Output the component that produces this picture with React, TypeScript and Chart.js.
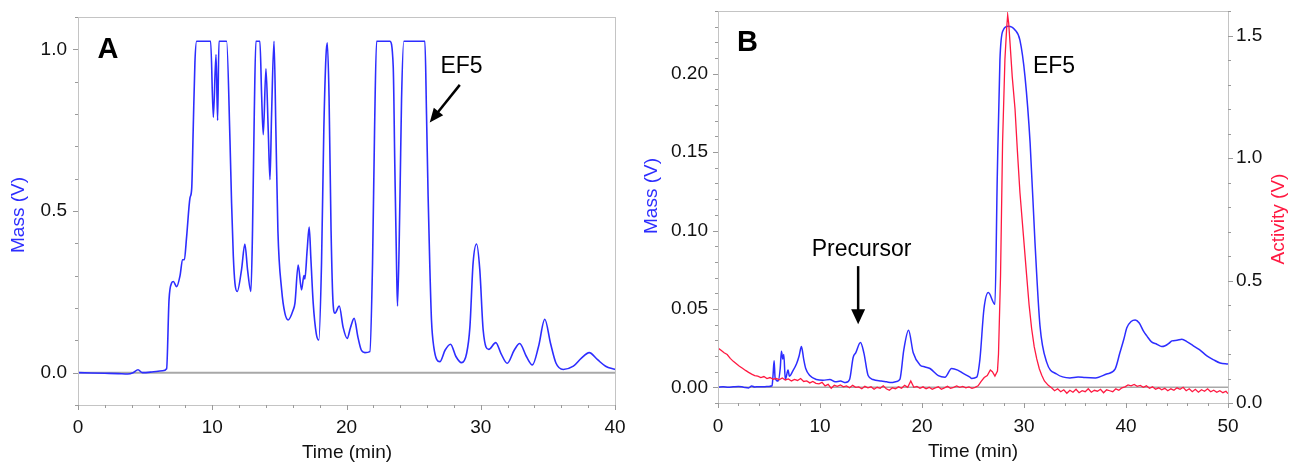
import React, { useEffect, useRef } from 'react';
import { Chart, registerables } from 'chart.js';

Chart.register(...registerables);

// ---------- Panel A data ----------
const massATime = [
  0, 1, 2, 3, 3.7, 4.1, 4.47, 4.8, 5.5, 6.3, 6.6, 6.78, 6.97, 7.1, 7.35, 7.6, 7.79, 7.92, 8.09, 8.34, 8.47, 8.58, 8.71, 8.84,
  9.88, 10.08, 10.28, 10.4, 10.5, 11.07, 11.32, 11.44, 11.57, 11.69, 11.86, 12.18, 12.43, 12.63, 12.88, 13.0, 13.13, 13.25,
  13.55, 13.68, 13.8, 14.0, 14.17, 14.3, 14.42, 14.6, 14.74, 14.89, 15.17, 15.41, 15.66, 16.03, 16.16, 16.4, 16.65, 16.83,
  16.9, 17.07, 17.22, 17.35, 17.52, 17.75, 17.94, 18.14, 18.31, 18.47, 18.57, 18.7, 18.85, 19.0, 19.14, 19.46, 19.75, 20.05,
  20.3, 20.57, 20.85, 21.1, 21.37, 21.74, 21.94, 22.09, 22.24, 23.23, 23.48, 23.6, 23.73, 23.8, 23.98, 24.1, 24.27, 25.84,
  25.96, 26.08, 26.2, 26.33, 26.5, 26.95, 27.35, 27.75, 28.15, 28.57, 28.95, 29.19, 29.43, 29.69, 29.93, 30.18, 30.6, 31.12,
  31.5, 31.97, 32.5, 32.9, 33.4, 33.85, 34.3, 34.77, 35.2, 35.6, 36.14, 36.9, 37.5, 38.08, 38.7, 39.3, 40,
];
const massAValue = [
  0, -0.001, -0.002, -0.003, -0.004, 0.0, 0.009, 0.0, 0.002, 0.006, 0.012, 0.225, 0.277, 0.282, 0.266, 0.3, 0.349, 0.35, 0.42, 0.54, 0.57, 0.75, 0.96, 1.025,
  1.025, 0.79, 0.984, 0.78, 1.025, 1.025, 0.72, 0.524, 0.36, 0.277, 0.251, 0.318, 0.398, 0.318, 0.251, 0.44, 0.8, 1.025,
  1.025, 0.854, 0.736, 0.94, 0.75, 0.597, 0.8, 1.025, 0.75, 0.44, 0.256, 0.184, 0.163, 0.194, 0.215, 0.333, 0.256, 0.3,
  0.29, 0.38, 0.45, 0.35, 0.215, 0.12, 0.101, 0.339, 0.75, 0.978, 1.02, 0.854, 0.44, 0.215, 0.184, 0.206, 0.14, 0.106,
  0.14, 0.168, 0.11, 0.07, 0.062, 0.065, 0.339, 0.75, 1.025, 1.025, 0.947, 0.638, 0.328, 0.206, 0.535, 0.845, 1.025, 1.025,
  0.8, 0.545, 0.339, 0.163, 0.08, 0.034, 0.07, 0.088, 0.05, 0.031, 0.06, 0.14, 0.339, 0.398, 0.318, 0.132, 0.072, 0.093,
  0.06, 0.029, 0.07, 0.09, 0.05, 0.024, 0.08, 0.165, 0.09, 0.03, 0.01, 0.02, 0.045, 0.062, 0.04, 0.02, 0.01,
];

// ---------- Panel B data ----------
const massBTime = [
  0, 0.5, 1, 1.5, 2, 2.5, 3, 3.3, 3.6, 4, 4.5, 5, 5.3, 5.4, 5.5, 5.6, 5.9, 6.1, 6.22, 6.35, 6.45, 6.6, 6.87, 7.0, 7.3, 7.7,
  7.95, 8.18, 8.4, 8.6, 9.0, 9.65, 10.3, 10.96, 11.5, 12.0, 12.5, 12.9, 13.25, 13.5, 13.97, 14.3, 14.72, 15.2, 16.0, 16.53,
  17.0, 17.5, 17.83, 18.22, 18.68, 19.14, 19.8, 20.3, 20.78, 21.6, 22.25, 22.9, 23.5, 24.0, 24.7, 24.87, 25.36, 25.68, 26.07,
  26.5, 27.15, 27.38, 27.64, 27.97, 28.46, 29.12, 29.6, 30.1, 30.6, 31.08, 31.57, 32.23, 33.2, 34.5, 35.3, 36.0, 37.0, 38.1,
  38.93, 39.4, 39.8, 40.08, 40.5, 40.9, 41.3, 41.7, 42.04, 42.5, 43.02, 43.5, 43.84, 44.2, 44.5, 45.0, 45.48, 46.0, 46.6,
  47.2, 47.93, 48.6, 49.23, 50,
];
const massBValue = [
  0, 0.0004, 0.0, 0.0003, 0.0006, 0.0001, -0.0004, 0.0008, 0.0002, 0.0004, 0.0003, 0.0006, 0.001, 0.008, 0.017, 0.006, 0.004, 0.012, 0.023, 0.018, 0.021, 0.005, 0.011, 0.007, 0.01, 0.015,
  0.02, 0.026, 0.018, 0.012, 0.0075, 0.005, 0.0045, 0.005, 0.0035, 0.004, 0.003, 0.005, 0.019, 0.022, 0.0286, 0.022, 0.0075, 0.005, 0.004, 0.0035,
  0.003, 0.0037, 0.005, 0.024, 0.0364, 0.022, 0.0143, 0.013, 0.012, 0.0075, 0.0065, 0.012, 0.011, 0.009, 0.0065, 0.0057, 0.0065, 0.018, 0.0498,
  0.0604, 0.053, 0.1345, 0.2087, 0.2279, 0.2303, 0.2279, 0.2214, 0.198, 0.1558, 0.092, 0.039, 0.0159, 0.0085, 0.006, 0.0066, 0.0062, 0.006, 0.0085,
  0.0116, 0.022, 0.031, 0.038, 0.042, 0.043, 0.041, 0.036, 0.0328, 0.029, 0.0275, 0.026, 0.0265, 0.028, 0.0296, 0.03, 0.0307, 0.029, 0.0265,
  0.024, 0.0201, 0.0175, 0.0155, 0.0148,
];

const activityTime = [
  0, 0.3, 0.6, 0.9, 1.2, 1.5, 1.8, 2.1, 2.4, 2.7, 3.0, 3.3, 3.6, 3.9, 4.2, 4.5, 4.8, 5.1, 5.4, 5.7, 6.0, 6.3, 6.6, 6.9, 7.2,
  7.5, 7.8, 8.1, 8.4, 8.7, 9.0, 9.3, 9.6, 9.9, 10.2, 10.5, 10.8, 11.1, 11.4, 11.7, 12.0, 12.3, 12.6, 12.9, 13.2, 13.5, 13.8,
  14.1, 14.4, 14.7, 15.0, 15.3, 15.6, 15.9, 16.2, 16.5, 16.8, 17.1, 17.4, 17.7, 18.0, 18.3, 18.6, 18.9, 19.2, 19.5, 19.8,
  20.1, 20.4, 20.7, 21.0, 21.3, 21.6, 21.9, 22.2, 22.5, 22.8, 23.1, 23.4, 23.7, 24.0, 24.3, 24.6, 24.9, 25.2, 25.5, 25.8,
  26.1, 26.4, 26.7, 26.9, 27.15, 27.4, 27.5, 27.7, 27.9, 28.13, 28.3, 28.4, 28.5, 28.63, 28.85, 29.12, 29.35, 29.6, 29.95,
  30.26, 30.5, 30.75, 31.0, 31.25, 31.5, 31.74, 32.0, 32.38, 32.7, 33.0, 33.3, 33.6, 33.9, 34.2, 34.5, 34.8, 35.1, 35.4,
  35.7, 36.0, 36.3, 36.6, 36.9, 37.2, 37.5, 37.8, 38.1, 38.4, 38.7, 39.0, 39.3, 39.6, 39.9, 40.2, 40.5, 40.8, 41.1, 41.4,
  41.7, 42.0, 42.3, 42.6, 42.9, 43.2, 43.5, 43.8, 44.1, 44.4, 44.7, 45.0, 45.3, 45.6, 45.9, 46.2, 46.5, 46.8, 47.1, 47.4,
  47.7, 48.0, 48.3, 48.6, 48.9, 49.2, 49.5, 49.8, 50.0,
];
const activityValue = [
  0.224, 0.215, 0.205, 0.198, 0.182, 0.17, 0.16, 0.15, 0.142, 0.133, 0.125, 0.118, 0.112, 0.11, 0.104, 0.108, 0.1, 0.104, 0.097, 0.1, 0.095, 0.102, 0.094, 0.098, 0.09,
  0.096, 0.092, 0.1, 0.088, 0.09, 0.082, 0.088, 0.08, 0.078, 0.084, 0.07, 0.076, 0.06, 0.072, 0.068, 0.074, 0.066, 0.07, 0.062, 0.072, 0.064, 0.066,
  0.058, 0.068, 0.062, 0.066, 0.056, 0.064, 0.06, 0.07, 0.058, 0.052, 0.062, 0.058, 0.066, 0.06, 0.072, 0.064, 0.09, 0.064, 0.068, 0.06,
  0.066, 0.058, 0.064, 0.056, 0.062, 0.066, 0.056, 0.062, 0.068, 0.06, 0.064, 0.07, 0.064, 0.068, 0.062, 0.066, 0.06, 0.064, 0.07, 0.088,
  0.104, 0.112, 0.135, 0.128, 0.11, 0.13, 0.2, 0.52, 1.064, 1.403, 1.53, 1.583, 1.55, 1.47, 1.33, 1.2, 1.03, 0.86, 0.68,
  0.52, 0.4, 0.303, 0.23, 0.18, 0.14, 0.113, 0.09, 0.072, 0.062, 0.05, 0.058, 0.046, 0.054, 0.04, 0.052, 0.044, 0.056, 0.042,
  0.05, 0.046, 0.058, 0.044, 0.052, 0.048, 0.056, 0.042, 0.054, 0.05, 0.046, 0.058, 0.052, 0.062, 0.066, 0.074, 0.07, 0.076, 0.068, 0.072,
  0.064, 0.07, 0.06, 0.066, 0.056, 0.062, 0.054, 0.06, 0.05, 0.058, 0.052, 0.062, 0.056, 0.064, 0.05, 0.058, 0.046, 0.056, 0.044, 0.054,
  0.048, 0.058, 0.046, 0.052, 0.044, 0.05, 0.042, 0.048, 0.038,
];

// ---------- Tick labels ----------
const xTicksA = [0, 10, 20, 30, 40];
const yTicksA = [0, 0.5, 1.0];
const xTicksB = [0, 10, 20, 30, 40, 50];
const yTicksBLeft = [0, 0.05, 0.1, 0.15, 0.2];
const yTicksBRight = [0, 0.5, 1.0, 1.5];

const FONT = '"Liberation Sans", Arial, Helvetica, sans-serif';
const BLUE = 'rgb(45,45,255)';
const RED = 'rgb(255,25,65)';
const TICK_FONT = { family: FONT, size: 19 };

function pts(xs: number[], ys: number[]) {
  return xs.map((x, i) => ({ x, y: ys[i] }));
}

type TickSpec = { scale: string; side: 'left' | 'right' | 'bottom'; major: number[]; step: number };
type TextSpec = { text: string; font: string; color: string; px?: number; py?: number; xv?: number; yv?: number; yScale?: string; rotate?: number };
type ArrowSpec = { x1: number; y1: number; x2: number; y2: number; yScale: string; head: number; headW: number };

function decorPlugin(o: { ticks: TickSpec[]; zeroScale: string; zeroWidth: number; texts: TextSpec[]; arrows: ArrowSpec[] }) {
  return {
    id: 'decor',
    beforeDatasetsDraw(chart: any) {
      const { ctx, chartArea: ca } = chart;
      const y = chart.scales[o.zeroScale].getPixelForValue(0);
      ctx.save();
      ctx.strokeStyle = '#a8a8a8';
      ctx.lineWidth = o.zeroWidth;
      ctx.beginPath();
      ctx.moveTo(ca.left, y);
      ctx.lineTo(ca.right, y);
      ctx.stroke();
      ctx.restore();
    },
    afterDraw(chart: any) {
      const { ctx, chartArea: ca } = chart;
      ctx.save();
      // frame
      ctx.strokeStyle = '#c4c4c4';
      ctx.lineWidth = 1;
      ctx.strokeRect(ca.left + 0.5, ca.top + 0.5, ca.right - ca.left, ca.bottom - ca.top);
      // ticks
      ctx.strokeStyle = '#9a9a9a';
      for (const t of o.ticks) {
        const s = chart.scales[t.scale];
        const n = Math.round((s.max - s.min) / t.step);
        const start = Math.ceil(s.min / t.step - 1e-6) * t.step;
        for (let i = 0; i <= n + 1; i++) {
          const v = start + i * t.step;
          if (v > s.max + 1e-9) break;
          const isMajor = t.major.some((m) => Math.abs(m - v) < t.step / 10);
          const len = isMajor ? 5 : 3;
          const p = Math.round(s.getPixelForValue(v)) + 0.5;
          ctx.beginPath();
          if (t.side === 'left') { ctx.moveTo(ca.left - len, p); ctx.lineTo(ca.left, p); }
          else if (t.side === 'right') { ctx.moveTo(ca.right, p); ctx.lineTo(ca.right + len, p); }
          else { ctx.moveTo(p, ca.bottom); ctx.lineTo(p, ca.bottom + len); }
          ctx.stroke();
        }
      }
      // arrows
      for (const a of o.arrows) {
        const xs = chart.scales.x, ys = chart.scales[a.yScale];
        const x1 = xs.getPixelForValue(a.x1), y1 = ys.getPixelForValue(a.y1);
        const x2 = xs.getPixelForValue(a.x2), y2 = ys.getPixelForValue(a.y2);
        const ang = Math.atan2(y2 - y1, x2 - x1);
        const bx = x2 - a.head * Math.cos(ang), by = y2 - a.head * Math.sin(ang);
        ctx.strokeStyle = '#000';
        ctx.fillStyle = '#000';
        ctx.lineWidth = 2.5;
        ctx.beginPath();
        ctx.moveTo(x1, y1);
        ctx.lineTo(bx + Math.cos(ang), by + Math.sin(ang));
        ctx.stroke();
        const nx = -Math.sin(ang), ny = Math.cos(ang);
        ctx.beginPath();
        ctx.moveTo(x2, y2);
        ctx.lineTo(bx + nx * a.headW / 2, by + ny * a.headW / 2);
        ctx.lineTo(bx - nx * a.headW / 2, by - ny * a.headW / 2);
        ctx.closePath();
        ctx.fill();
      }
      // texts
      for (const t of o.texts) {
        let x = t.px ?? 0, y = t.py ?? 0;
        if (t.xv !== undefined && t.yScale) {
          x = chart.scales.x.getPixelForValue(t.xv);
          y = chart.scales[t.yScale].getPixelForValue(t.yv);
        }
        ctx.save();
        ctx.font = t.font;
        ctx.fillStyle = t.color;
        ctx.textAlign = 'center';
        ctx.textBaseline = 'middle';
        ctx.translate(x, y);
        if (t.rotate) ctx.rotate(t.rotate);
        ctx.fillText(t.text, 0, 0);
        ctx.restore();
      }
      ctx.restore();
    },
  };
}

function fixAxis(size: number, horizontal: boolean) {
  return (s: any) => {
    if (horizontal) s.height = size; else s.width = size;
    s.paddingLeft = 0; s.paddingRight = 0; s.paddingTop = 0; s.paddingBottom = 0;
  };
}

function setTicks(vals: number[]) {
  return (s: any) => { s.ticks = vals.map((v) => ({ value: v })); };
}

function configA(): any {
  return {
    type: 'line',
    data: {
      datasets: [{
        data: pts(massATime, massAValue),
        borderColor: BLUE, borderWidth: 1.6, pointRadius: 0, fill: false,
        cubicInterpolationMode: 'monotone',
      }],
    },
    options: {
      responsive: false, animation: false, devicePixelRatio: 1,
      layout: { padding: { top: 17, right: 25, left: 0, bottom: 0 } },
      plugins: { legend: { display: false }, tooltip: { enabled: false } },
      scales: {
        x: {
          type: 'linear', min: 0, max: 40,
          afterBuildTicks: setTicks(xTicksA), afterFit: fixAxis(59, true),
          grid: { display: false, drawTicks: true, tickLength: 5 }, border: { display: false },
          ticks: { font: TICK_FONT, color: '#111', padding: 6, maxRotation: 0, autoSkip: false, callback: (v: any) => String(v) },
        },
        y: {
          type: 'linear', min: -0.1, max: 1.1,
          afterBuildTicks: setTicks(yTicksA), afterFit: fixAxis(78, false),
          grid: { display: false, drawTicks: true, tickLength: 5 }, border: { display: false },
          ticks: { font: TICK_FONT, color: '#111', padding: 6, autoSkip: false, callback: (v: any) => Number(v).toFixed(1) },
        },
      },
    },
    plugins: [decorPlugin({
      ticks: [
        { scale: 'x', side: 'bottom', major: xTicksA, step: 2 },
        { scale: 'y', side: 'left', major: yTicksA, step: 0.1 },
      ],
      zeroScale: 'y', zeroWidth: 2,
      arrows: [{ x1: 28.44, y1: 0.89, x2: 26.2, y2: 0.774, yScale: 'y', head: 14, headW: 12 }],
      texts: [
        { text: 'A', font: `bold 29px ${FONT}`, color: '#000', px: 108, py: 50 },
        { text: 'EF5', font: `23px ${FONT}`, color: '#000', xv: 28.57, yv: 0.947, yScale: 'y' },
        { text: 'Mass (V)', font: `19px ${FONT}`, color: BLUE, px: 19, py: 215, rotate: -Math.PI / 2 },
        { text: 'Time (min)', font: `19px ${FONT}`, color: '#111', px: 347, py: 453 },
      ],
    })],
  };
}

function configB(): any {
  return {
    type: 'line',
    data: {
      datasets: [
        {
          data: pts(activityTime, activityValue), yAxisID: 'y1',
          borderColor: RED, borderWidth: 1.3, pointRadius: 0, fill: false, tension: 0,
        },
        {
          data: pts(massBTime, massBValue), yAxisID: 'y',
          borderColor: BLUE, borderWidth: 1.5, pointRadius: 0, fill: false,
          cubicInterpolationMode: 'monotone',
        },
      ],
    },
    options: {
      responsive: false, animation: false, devicePixelRatio: 1,
      layout: { padding: { top: 11, right: 0, left: 0, bottom: 0 } },
      plugins: { legend: { display: false }, tooltip: { enabled: false } },
      scales: {
        x: {
          type: 'linear', min: 0, max: 50,
          afterBuildTicks: setTicks(xTicksB), afterFit: fixAxis(61, true),
          grid: { display: false, drawTicks: true, tickLength: 5 }, border: { display: false },
          ticks: { font: TICK_FONT, color: '#111', padding: 7, maxRotation: 0, autoSkip: false, callback: (v: any) => String(v) },
        },
        y: {
          type: 'linear', position: 'left', min: -0.01, max: 0.24,
          afterBuildTicks: setTicks(yTicksBLeft), afterFit: fixAxis(78, false),
          grid: { display: false, drawTicks: true, tickLength: 5 }, border: { display: false },
          ticks: { font: TICK_FONT, color: '#111', padding: 5, autoSkip: false, callback: (v: any) => Number(v).toFixed(2) },
        },
        y1: {
          type: 'linear', position: 'right', min: 0, max: 1.6,
          afterBuildTicks: setTicks(yTicksBRight), afterFit: fixAxis(62, false),
          grid: { display: false, drawTicks: true, tickLength: 5 }, border: { display: false },
          ticks: { font: TICK_FONT, color: '#111', padding: 3, autoSkip: false, callback: (v: any) => Number(v).toFixed(1) },
        },
      },
    },
    plugins: [decorPlugin({
      ticks: [
        { scale: 'x', side: 'bottom', major: xTicksB, step: 2 },
        { scale: 'y', side: 'left', major: yTicksBLeft, step: 0.01 },
        { scale: 'y1', side: 'right', major: yTicksBRight, step: 0.1 },
      ],
      zeroScale: 'y', zeroWidth: 1.5,
      arrows: [{ x1: 13.74, y1: 0.0773, x2: 13.74, y2: 0.0402, yScale: 'y', head: 15, headW: 14 }],
      texts: [
        { text: 'B', font: `bold 29px ${FONT}`, color: '#000', px: 107.5, py: 43 },
        { text: 'Precursor', font: `23px ${FONT}`, color: '#000', xv: 14.07, yv: 0.0878, yScale: 'y' },
        { text: 'EF5', font: `23px ${FONT}`, color: '#000', xv: 32.94, yv: 0.2048, yScale: 'y' },
        { text: 'Mass (V)', font: `19px ${FONT}`, color: BLUE, px: 12, py: 196, rotate: -Math.PI / 2 },
        { text: 'Activity (V)', font: `19px ${FONT}`, color: RED, px: 639, py: 219, rotate: -Math.PI / 2 },
        { text: 'Time (min)', font: `19px ${FONT}`, color: '#111', px: 333, py: 452 },
      ],
    })],
  };
}

function Panel({ make, left, width }: { make: () => any; left: number; width: number }) {
  const ref = useRef<HTMLCanvasElement | null>(null);
  useEffect(() => {
    const chart = new Chart(ref.current as HTMLCanvasElement, make());
    return () => chart.destroy();
  }, []);
  return (
    <div style={{ position: 'absolute', left, top: 0, width, height: 464 }}>
      <canvas ref={ref} width={width} height={464} style={{ display: 'block', width, height: 464 }} />
    </div>
  );
}

export default function App() {
  return (
    <div style={{ position: 'fixed', left: 0, top: 0, width: 1290, height: 464, background: '#fff', overflow: 'hidden' }}>
      <Panel make={configA} left={0} width={640} />
      <Panel make={configB} left={640} width={650} />
    </div>
  );
}
